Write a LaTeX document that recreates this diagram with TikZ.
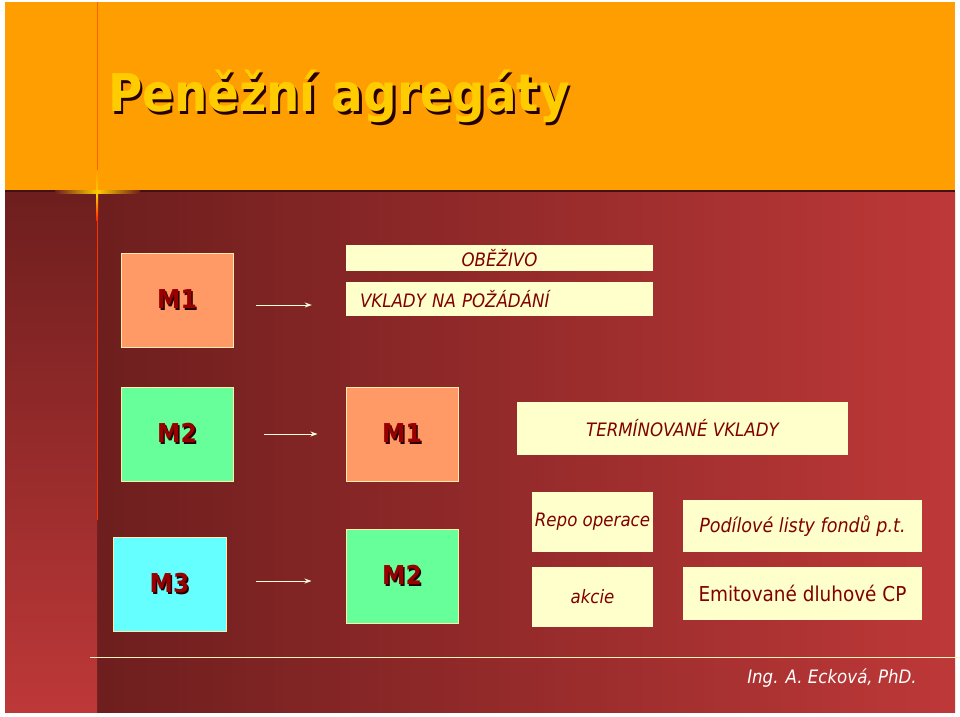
\documentclass[tikz,border=0pt]{standalone}
\usepackage{fontspec}
\setmainfont{DejaVu Sans Condensed}
\usepackage{tikz}
\usetikzlibrary{arrows.meta,positioning,calc}
\definecolor{HeadOrange}{RGB}{255,158,0}
\definecolor{BgDark}{RGB}{110,30,30}
\definecolor{BgRed}{RGB}{190,56,56}
\definecolor{Salmon}{RGB}{255,153,102}
\definecolor{MGreen}{RGB}{102,255,153}
\definecolor{MCyan}{RGB}{102,255,255}
\definecolor{Cream}{RGB}{255,255,204}
\definecolor{LabelRed}{RGB}{153,0,0}
\definecolor{TextRed}{RGB}{128,0,0}
\definecolor{TitleYellow}{RGB}{255,204,0}
\newcommand{\shadowed}[3]{\rlap{\kern#3\raisebox{-#3}{\textcolor{black!85!red}{#2}}}\textcolor{#1}{#2}}

\begin{document}
\begin{tikzpicture}[x=1pt, y=-1pt, every node/.style={align=center},
    mbox/.style={draw=Cream!85!orange, line width=1pt, minimum width=112pt, minimum height=94pt, inner sep=0pt, font=\fontsize{26}{30}\selectfont\bfseries},
    txtbox/.style={fill=Cream, inner sep=0pt, text=TextRed, font=\fontsize{18.5}{22}\selectfont\itshape},
    arr/.style={-{Stealth[length=7pt,width=5pt]}, draw=Cream!80!white, line width=1pt}]
      \useasboundingbox (0,0) rectangle (960,716);
      % background
      \fill[white] (0,0) rectangle (960,716);
      \fill[HeadOrange] (5,2) rectangle (955,191);
      \shade[left color=BgDark, right color=BgRed] (97,192) rectangle (955,712);
      \shade[top color=BgDark, bottom color=BgRed] (5,192) rectangle (97,712);
      \draw[BgDark!60!black, line width=1.2pt] (5,191) -- (955,191);
      \draw[orange!75!red, line width=1pt] (97,2) -- (97,192);
      \draw[red!60!orange, line width=0.8pt] (97,192) -- (97,520);
      \shade[left color=BgDark, right color=BgDark, middle color=yellow!60!orange] (55,190) rectangle (140,193);
      \shade[top color=HeadOrange, bottom color=red!70!orange, middle color=yellow!60!orange] (96,170) rectangle (98,220);
      \draw[Cream!90!orange, line width=1pt] (90,657) -- (960,657);

      \node[font=\fontsize{52}{60}\selectfont\bfseries, inner sep=0pt] (title) at (339,98) {\shadowed{TitleYellow}{Peněžní agregáty}{2.5pt}};

      % row M1
      \node[mbox, fill=Salmon] (m1a) at (177,300) {\shadowed{LabelRed}{M1}{1.5pt}};
      \node[txtbox, minimum width=307pt, minimum height=26pt] (obez) at (499.5,258) {OBĚŽIVO};
      \node[txtbox, text width=279pt, inner xsep=14pt, minimum height=34pt, align=left] (vklady) at (499.5,299) {VKLADY NA POŽÁDÁNÍ};

      % row M2
      \node[mbox, fill=MGreen] (m2a) at (177,434) {\shadowed{LabelRed}{M2}{1.5pt}};
      \node[mbox, fill=Salmon] (m1b) at (402,434) {\shadowed{LabelRed}{M1}{1.5pt}};
      \node[txtbox, minimum width=331pt, minimum height=53pt] (term) at (682.5,428.5) {TERMÍNOVANÉ VKLADY};

      % row M3
      \node[mbox, fill=MCyan, minimum width=113pt] (m3) at (169.5,584) {\shadowed{LabelRed}{M3}{1.5pt}};
      \node[mbox, fill=MGreen] (m2b) at (402,576) {\shadowed{LabelRed}{M2}{1.5pt}};
      \node[txtbox, minimum width=121pt, minimum height=60pt] (repo) at (592.5,522) {Repo operace};
      \node[txtbox, minimum width=121pt, minimum height=60pt] (akcie) at (592.5,597) {akcie};
      \node[txtbox, minimum width=239pt, minimum height=52pt, font=\fontsize{19.5}{23}\selectfont\itshape] (podil) at (802.5,526) {Podílové listy fondů p.t.};
      \node[txtbox, minimum width=239pt, minimum height=53pt, font=\fontsize{20.5}{24}\selectfont] (emit) at (802.5,593.5) {Emitované dluhové CP};

      \node[text=white, font=\fontsize{18.5}{22}\selectfont\itshape] (autor) at (832,678) {Ing. A. Ecková, PhD.};

      \draw[arr] ([xshift=22pt,yshift=-5pt]m1a.east) -- ([xshift=-34pt,yshift=-5pt]m1a.east -| vklady.west);
      \draw[arr, shorten <=30pt, shorten >=28pt] (m2a.east) -- (m1b.west);
      \draw[arr] ([xshift=29pt,yshift=3pt]m3.east) -- ([xshift=-34pt,yshift=3pt]m3.east -| m2b.west);
    \end{tikzpicture}
\end{document}
